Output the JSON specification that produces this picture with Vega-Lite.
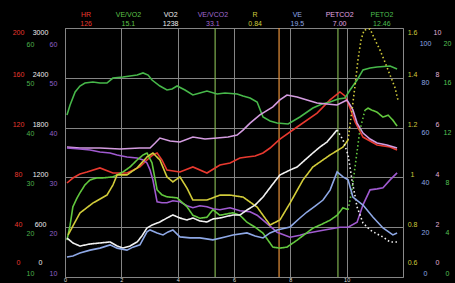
{
"$schema":"https://vega.github.io/schema/vega-lite/v6.json",
"width":338,"height":249,
"autosize":{"type":"none"},
"padding":{"left":65,"top":28,"right":52,"bottom":6},
"background":"#000000",
"config":{"view":{"stroke":"#8a8a8a","strokeWidth":1},"axis":{"domain":false,"ticks":false,"grid":false,"labelFont":"Liberation Sans","labelFontSize":7,"labelFlush":false,"labelOverlap":false,"labelBound":false,"gridColor":"#858585","gridWidth":1,"labelColor":"#dddddd"}},
"datasets":{
"ev":[{"t":5.33,"k":"a"},{"t":7.6,"k":"c"},{"t":9.69,"k":"a"}],
"hdr":[{"n":"HR","val":"126"},{"n":"VE/VO2","val":"15.1"},{"n":"VO2","val":"1238"},{"n":"VE/VCO2","val":"33.1"},{"n":"R","val":"0.84"},{"n":"VE","val":"19.5"},{"n":"PETCO2","val":"7.00"},{"n":"PETO2","val":"12.46"}]
},
"data":{"values":[
{"s":"HR","t":0.07,"v":75.5},{"s":"HR","t":0.28,"v":79.5},{"s":"HR","t":0.53,"v":82.7},{"s":"HR","t":0.78,"v":84.3},{"s":"HR","t":1.24,"v":87.6},{"s":"HR","t":1.7,"v":83.5},{"s":"HR","t":2.2,"v":83.5},{"s":"HR","t":2.66,"v":88.4},{"s":"HR","t":2.91,"v":94.0},{"s":"HR","t":3.12,"v":98.0},{"s":"HR","t":3.27,"v":99.6},{"s":"HR","t":3.44,"v":94.0},{"s":"HR","t":3.62,"v":85.9},{"s":"HR","t":4.08,"v":84.3},{"s":"HR","t":4.54,"v":88.4},{"s":"HR","t":5.04,"v":83.5},{"s":"HR","t":5.5,"v":90.0},{"s":"HR","t":5.86,"v":91.6},{"s":"HR","t":6.21,"v":95.6},{"s":"HR","t":6.46,"v":96.4},{"s":"HR","t":6.75,"v":97.2},{"s":"HR","t":7.03,"v":99.6},{"s":"HR","t":7.28,"v":103.6},{"s":"HR","t":7.63,"v":110.8},{"s":"HR","t":8.24,"v":120.5},{"s":"HR","t":8.95,"v":131.7},{"s":"HR","t":9.41,"v":142.2},{"s":"HR","t":9.76,"v":148.6},{"s":"HR","t":9.94,"v":145.4},{"s":"HR","t":10.12,"v":135.7},{"s":"HR","t":10.3,"v":124.5},{"s":"HR","t":10.58,"v":112.4},{"s":"HR","t":11.08,"v":106.0},{"s":"HR","t":11.54,"v":104.4},{"s":"HR","t":11.79,"v":102.0},
{"s":"VO2","p":"e","t":0.07,"v":470},{"s":"VO2","p":"e","t":0.28,"v":410},{"s":"VO2","p":"e","t":0.53,"v":373},{"s":"VO2","p":"e","t":0.89,"v":398},{"s":"VO2","p":"e","t":1.24,"v":410},{"s":"VO2","p":"e","t":1.6,"v":422},{"s":"VO2","p":"e","t":1.85,"v":373},{"s":"VO2","p":"e","t":2.06,"v":349},{"s":"VO2","p":"e","t":2.31,"v":373},{"s":"VO2","p":"e","t":2.56,"v":422},{"s":"VO2","p":"e","t":2.73,"v":494},{"s":"VO2","p":"e","t":2.91,"v":590},{"s":"VO2","p":"e","t":3.09,"v":626},{"s":"VO2","p":"e","t":3.37,"v":663},{"s":"VO2","p":"e","t":3.62,"v":711},{"s":"VO2","p":"e","t":3.83,"v":747},{"s":"VO2","p":"e","t":4.08,"v":711},{"s":"VO2","p":"e","t":4.33,"v":687},{"s":"VO2","p":"e","t":4.54,"v":711},{"s":"VO2","p":"e","t":4.79,"v":675},{"s":"VO2","p":"e","t":5.04,"v":663},{"s":"VO2","p":"e","t":5.25,"v":699},{"s":"VO2","p":"e","t":5.5,"v":711},{"s":"VO2","p":"e","t":5.96,"v":747},{"s":"VO2","p":"e","t":6.21,"v":747},{"s":"VO2","p":"e","t":6.46,"v":807},{"s":"VO2","p":"e","t":6.75,"v":867},{"s":"VO2","p":"e","t":7.03,"v":964},{"s":"VO2","p":"e","t":7.35,"v":1108},{"s":"VO2","p":"e","t":7.63,"v":1229},{"s":"VO2","p":"e","t":7.99,"v":1289},{"s":"VO2","p":"e","t":8.24,"v":1325},{"s":"VO2","p":"e","t":8.52,"v":1410},{"s":"VO2","p":"e","t":8.8,"v":1494},{"s":"VO2","p":"e","t":9.05,"v":1566},{"s":"VO2","p":"e","t":9.3,"v":1626},{"s":"VO2","p":"e","t":9.51,"v":1711},{"s":"VO2","p":"e","t":9.66,"v":1771},
{"s":"VO2","p":"r","t":9.66,"v":1771},{"s":"VO2","p":"r","t":9.87,"v":1651},{"s":"VO2","p":"r","t":10.05,"v":1470},{"s":"VO2","p":"r","t":10.19,"v":1169},{"s":"VO2","p":"r","t":10.37,"v":843},{"s":"VO2","p":"r","t":10.58,"v":651},{"s":"VO2","p":"r","t":10.83,"v":566},{"s":"VO2","p":"r","t":11.08,"v":518},{"s":"VO2","p":"r","t":11.29,"v":482},{"s":"VO2","p":"r","t":11.54,"v":422},{"s":"VO2","p":"r","t":11.79,"v":422},
{"s":"VE","t":0.07,"v":8.0},{"s":"VE","t":0.28,"v":8.4},{"s":"VE","t":0.53,"v":9.6},{"s":"VE","t":0.89,"v":10.8},{"s":"VE","t":1.24,"v":11.6},{"s":"VE","t":1.6,"v":12.9},{"s":"VE","t":1.85,"v":11.6},{"s":"VE","t":2.2,"v":10.8},{"s":"VE","t":2.41,"v":12.0},{"s":"VE","t":2.66,"v":12.9},{"s":"VE","t":2.91,"v":18.1},{"s":"VE","t":3.02,"v":18.9},{"s":"VE","t":3.27,"v":17.7},{"s":"VE","t":3.48,"v":16.9},{"s":"VE","t":3.66,"v":18.1},{"s":"VE","t":3.83,"v":18.9},{"s":"VE","t":4.08,"v":16.1},{"s":"VE","t":4.44,"v":15.7},{"s":"VE","t":4.79,"v":15.7},{"s":"VE","t":5.25,"v":14.9},{"s":"VE","t":5.68,"v":16.1},{"s":"VE","t":5.96,"v":16.9},{"s":"VE","t":6.46,"v":17.7},{"s":"VE","t":6.75,"v":16.5},{"s":"VE","t":7.03,"v":15.7},{"s":"VE","t":7.28,"v":17.7},{"s":"VE","t":7.53,"v":18.9},{"s":"VE","t":7.99,"v":20.1},{"s":"VE","t":8.34,"v":23.7},{"s":"VE","t":8.59,"v":26.1},{"s":"VE","t":8.88,"v":28.5},{"s":"VE","t":9.16,"v":30.9},{"s":"VE","t":9.41,"v":34.9},{"s":"VE","t":9.66,"v":42.2},{"s":"VE","t":9.87,"v":40.2},{"s":"VE","t":10.05,"v":39.0},{"s":"VE","t":10.22,"v":32.1},{"s":"VE","t":10.58,"v":28.9},{"s":"VE","t":10.93,"v":24.1},{"s":"VE","t":11.29,"v":19.7},{"s":"VE","t":11.64,"v":16.9},{"s":"VE","t":11.79,"v":17.7},
{"s":"R","p":"e","t":0.11,"v":0.769},{"s":"R","p":"e","t":0.53,"v":0.857},{"s":"R","p":"e","t":0.99,"v":0.897},{"s":"R","p":"e","t":1.49,"v":0.929},{"s":"R","p":"e","t":1.7,"v":0.969},{"s":"R","p":"e","t":1.85,"v":1.01},{"s":"R","p":"e","t":2.2,"v":1.01},{"s":"R","p":"e","t":2.56,"v":1.038},{"s":"R","p":"e","t":2.91,"v":1.082},{"s":"R","p":"e","t":3.12,"v":1.098},{"s":"R","p":"e","t":3.37,"v":1.07},{"s":"R","p":"e","t":3.62,"v":1.002},{"s":"R","p":"e","t":3.83,"v":0.982},{"s":"R","p":"e","t":4.08,"v":1.002},{"s":"R","p":"e","t":4.33,"v":0.957},{"s":"R","p":"e","t":4.54,"v":0.909},{"s":"R","p":"e","t":5.04,"v":0.909},{"s":"R","p":"e","t":5.5,"v":0.929},{"s":"R","p":"e","t":5.86,"v":0.929},{"s":"R","p":"e","t":6.32,"v":0.921},{"s":"R","p":"e","t":6.82,"v":0.881},{"s":"R","p":"e","t":7.28,"v":0.809},{"s":"R","p":"e","t":7.63,"v":0.829},{"s":"R","p":"e","t":7.99,"v":0.897},{"s":"R","p":"e","t":8.45,"v":0.99},{"s":"R","p":"e","t":8.8,"v":1.042},{"s":"R","p":"e","t":9.41,"v":1.09},{"s":"R","p":"e","t":9.87,"v":1.122},{"s":"R","p":"e","t":10.05,"v":1.15},
{"s":"R","p":"r","t":10.05,"v":1.15},{"s":"R","p":"r","t":10.19,"v":1.271},{"s":"R","p":"r","t":10.3,"v":1.371},{"s":"R","p":"r","t":10.4,"v":1.471},{"s":"R","p":"r","t":10.51,"v":1.552},{"s":"R","p":"r","t":10.62,"v":1.592},{"s":"R","p":"r","t":10.83,"v":1.596},{"s":"R","p":"r","t":11.01,"v":1.552},{"s":"R","p":"r","t":11.18,"v":1.512},{"s":"R","p":"r","t":11.36,"v":1.463},{"s":"R","p":"r","t":11.54,"v":1.411},{"s":"R","p":"r","t":11.72,"v":1.359},{"s":"R","p":"r","t":11.82,"v":1.311},
{"s":"VEVO2","p":"e","t":0.07,"v":17.4},{"s":"VEVO2","p":"e","t":0.18,"v":20.4},{"s":"VEVO2","p":"e","t":0.28,"v":24.1},{"s":"VEVO2","p":"e","t":0.43,"v":25.9},{"s":"VEVO2","p":"e","t":0.53,"v":26.9},{"s":"VEVO2","p":"e","t":0.71,"v":28.5},{"s":"VEVO2","p":"e","t":0.89,"v":29.5},{"s":"VEVO2","p":"e","t":1.14,"v":29.9},{"s":"VEVO2","p":"e","t":1.35,"v":29.9},{"s":"VEVO2","p":"e","t":1.7,"v":30.1},{"s":"VEVO2","p":"e","t":2.06,"v":31.1},{"s":"VEVO2","p":"e","t":2.31,"v":32.1},{"s":"VEVO2","p":"e","t":2.56,"v":33.5},{"s":"VEVO2","p":"e","t":2.77,"v":34.5},{"s":"VEVO2","p":"e","t":2.91,"v":34.9},{"s":"VEVO2","p":"e","t":3.09,"v":32.9},{"s":"VEVO2","p":"e","t":3.27,"v":27.5},{"s":"VEVO2","p":"e","t":3.44,"v":26.5},{"s":"VEVO2","p":"e","t":3.62,"v":26.1},{"s":"VEVO2","p":"e","t":3.98,"v":25.9},{"s":"VEVO2","p":"e","t":4.33,"v":24.1},{"s":"VEVO2","p":"e","t":4.54,"v":22.4},{"s":"VEVO2","p":"e","t":4.79,"v":21.8},{"s":"VEVO2","p":"e","t":5.04,"v":22.0},{"s":"VEVO2","p":"e","t":5.25,"v":23.5},{"s":"VEVO2","p":"e","t":5.5,"v":22.4},{"s":"VEVO2","p":"e","t":5.96,"v":22.9},{"s":"VEVO2","p":"e","t":6.21,"v":22.4},{"s":"VEVO2","p":"e","t":6.46,"v":21.0},{"s":"VEVO2","p":"e","t":6.75,"v":20.0},{"s":"VEVO2","p":"e","t":7.03,"v":18.8},{"s":"VEVO2","p":"e","t":7.38,"v":16.0},{"s":"VEVO2","p":"e","t":7.63,"v":15.8},{"s":"VEVO2","p":"e","t":7.88,"v":16.0},{"s":"VEVO2","p":"e","t":8.24,"v":17.4},{"s":"VEVO2","p":"e","t":8.52,"v":18.6},{"s":"VEVO2","p":"e","t":8.8,"v":19.8},{"s":"VEVO2","p":"e","t":9.12,"v":20.6},{"s":"VEVO2","p":"e","t":9.41,"v":21.4},{"s":"VEVO2","p":"e","t":9.66,"v":22.4},{"s":"VEVO2","p":"e","t":9.87,"v":23.9},{"s":"VEVO2","p":"e","t":10.05,"v":23.5},
{"s":"VEVO2","p":"r","t":10.05,"v":23.5},{"s":"VEVO2","p":"r","t":10.19,"v":27.5},{"s":"VEVO2","p":"r","t":10.33,"v":33.5},{"s":"VEVO2","p":"r","t":10.47,"v":39.5},{"s":"VEVO2","p":"r","t":10.65,"v":43.5},
{"s":"VEVO2","p":"f","t":10.65,"v":43.5},{"s":"VEVO2","p":"f","t":10.76,"v":43.9},{"s":"VEVO2","p":"f","t":10.9,"v":43.5},{"s":"VEVO2","p":"f","t":11.08,"v":43.1},{"s":"VEVO2","p":"f","t":11.29,"v":42.1},{"s":"VEVO2","p":"f","t":11.47,"v":42.5},{"s":"VEVO2","p":"f","t":11.64,"v":41.5},{"s":"VEVO2","p":"f","t":11.79,"v":40.3},
{"s":"VEVCO2","t":0.07,"v":35.9},{"s":"VEVCO2","t":0.53,"v":35.7},{"s":"VEVCO2","t":0.89,"v":35.5},{"s":"VEVCO2","t":1.24,"v":35.1},{"s":"VEVCO2","t":1.6,"v":34.9},{"s":"VEVCO2","t":1.85,"v":34.5},{"s":"VEVCO2","t":2.2,"v":34.1},{"s":"VEVCO2","t":2.56,"v":33.9},{"s":"VEVCO2","t":2.77,"v":33.5},{"s":"VEVCO2","t":2.91,"v":32.9},{"s":"VEVCO2","t":3.02,"v":31.5},{"s":"VEVCO2","t":3.12,"v":29.5},{"s":"VEVCO2","t":3.27,"v":25.1},{"s":"VEVCO2","t":3.44,"v":24.9},{"s":"VEVCO2","t":3.62,"v":24.9},{"s":"VEVCO2","t":3.83,"v":25.3},{"s":"VEVCO2","t":4.08,"v":25.1},{"s":"VEVCO2","t":4.33,"v":24.3},{"s":"VEVCO2","t":4.54,"v":23.9},{"s":"VEVCO2","t":4.79,"v":24.3},{"s":"VEVCO2","t":5.04,"v":24.1},{"s":"VEVCO2","t":5.25,"v":23.7},{"s":"VEVCO2","t":5.5,"v":23.5},{"s":"VEVCO2","t":5.86,"v":23.9},{"s":"VEVCO2","t":6.21,"v":23.3},{"s":"VEVCO2","t":6.57,"v":23.1},{"s":"VEVCO2","t":6.82,"v":22.4},{"s":"VEVCO2","t":7.03,"v":21.4},{"s":"VEVCO2","t":7.28,"v":20.2},{"s":"VEVCO2","t":7.53,"v":19.0},{"s":"VEVCO2","t":7.99,"v":18.0},{"s":"VEVCO2","t":8.34,"v":18.4},{"s":"VEVCO2","t":8.59,"v":18.8},{"s":"VEVCO2","t":9.16,"v":19.4},{"s":"VEVCO2","t":9.76,"v":20.0},{"s":"VEVCO2","t":10.05,"v":20.0},{"s":"VEVCO2","t":10.37,"v":21.0},{"s":"VEVCO2","t":10.58,"v":24.5},{"s":"VEVCO2","t":10.83,"v":27.5},{"s":"VEVCO2","t":11.08,"v":27.7},{"s":"VEVCO2","t":11.29,"v":27.9},{"s":"VEVCO2","t":11.54,"v":29.5},{"s":"VEVCO2","t":11.79,"v":30.9},
{"s":"PCO2","t":0.07,"v":5.22},{"s":"PCO2","t":0.53,"v":5.18},{"s":"PCO2","t":1.24,"v":5.18},{"s":"PCO2","t":1.95,"v":5.14},{"s":"PCO2","t":2.66,"v":5.18},{"s":"PCO2","t":3.02,"v":5.18},{"s":"PCO2","t":3.2,"v":5.38},{"s":"PCO2","t":3.37,"v":5.58},{"s":"PCO2","t":3.73,"v":5.46},{"s":"PCO2","t":4.08,"v":5.42},{"s":"PCO2","t":4.54,"v":5.62},{"s":"PCO2","t":4.97,"v":5.54},{"s":"PCO2","t":5.4,"v":5.58},{"s":"PCO2","t":5.79,"v":5.62},{"s":"PCO2","t":6.11,"v":5.7},{"s":"PCO2","t":6.32,"v":5.9},{"s":"PCO2","t":6.57,"v":6.18},{"s":"PCO2","t":6.92,"v":6.51},{"s":"PCO2","t":7.38,"v":6.83},{"s":"PCO2","t":7.63,"v":7.11},{"s":"PCO2","t":7.88,"v":7.31},{"s":"PCO2","t":8.24,"v":7.23},{"s":"PCO2","t":8.59,"v":7.11},{"s":"PCO2","t":8.95,"v":6.99},{"s":"PCO2","t":9.3,"v":6.95},{"s":"PCO2","t":9.66,"v":6.91},{"s":"PCO2","t":9.87,"v":7.03},{"s":"PCO2","t":10.01,"v":7.11},{"s":"PCO2","t":10.12,"v":6.91},{"s":"PCO2","t":10.22,"v":6.71},{"s":"PCO2","t":10.37,"v":6.18},{"s":"PCO2","t":10.58,"v":5.78},{"s":"PCO2","t":10.83,"v":5.54},{"s":"PCO2","t":11.08,"v":5.38},{"s":"PCO2","t":11.43,"v":5.3},{"s":"PCO2","t":11.79,"v":5.18},
{"s":"PO2","t":0.07,"v":13.01},{"s":"PO2","t":0.18,"v":13.82},{"s":"PO2","t":0.36,"v":14.86},{"s":"PO2","t":0.53,"v":15.34},{"s":"PO2","t":0.71,"v":15.58},{"s":"PO2","t":0.99,"v":15.66},{"s":"PO2","t":1.24,"v":15.58},{"s":"PO2","t":1.49,"v":15.58},{"s":"PO2","t":1.7,"v":15.98},{"s":"PO2","t":2.06,"v":16.06},{"s":"PO2","t":2.31,"v":16.14},{"s":"PO2","t":2.56,"v":16.22},{"s":"PO2","t":2.77,"v":16.39},{"s":"PO2","t":2.95,"v":16.22},{"s":"PO2","t":3.09,"v":15.82},{"s":"PO2","t":3.37,"v":15.34},{"s":"PO2","t":3.62,"v":15.02},{"s":"PO2","t":3.8,"v":15.1},{"s":"PO2","t":3.98,"v":15.34},{"s":"PO2","t":4.26,"v":15.02},{"s":"PO2","t":4.54,"v":14.62},{"s":"PO2","t":4.79,"v":14.78},{"s":"PO2","t":5.04,"v":14.94},{"s":"PO2","t":5.4,"v":14.7},{"s":"PO2","t":5.68,"v":14.78},{"s":"PO2","t":6.11,"v":14.7},{"s":"PO2","t":6.32,"v":14.54},{"s":"PO2","t":6.57,"v":14.38},{"s":"PO2","t":6.82,"v":14.06},{"s":"PO2","t":7.03,"v":12.85},{"s":"PO2","t":7.28,"v":12.53},{"s":"PO2","t":7.53,"v":12.37},{"s":"PO2","t":7.92,"v":12.29},{"s":"PO2","t":8.34,"v":12.85},{"s":"PO2","t":8.8,"v":13.57},{"s":"PO2","t":9.12,"v":13.9},{"s":"PO2","t":9.41,"v":14.06},{"s":"PO2","t":9.69,"v":14.3},{"s":"PO2","t":9.94,"v":14.38},{"s":"PO2","t":10.12,"v":15.02},{"s":"PO2","t":10.37,"v":15.82},{"s":"PO2","t":10.58,"v":16.63},{"s":"PO2","t":10.83,"v":16.79},{"s":"PO2","t":11.08,"v":16.87},{"s":"PO2","t":11.54,"v":16.95},{"s":"PO2","t":11.79,"v":16.71}
]},
"layer":[
{"data":{"name":"ev"},"mark":{"type":"rule","strokeWidth":1.2},
 "encoding":{"x":{"field":"t","type":"quantitative","scale":{"domain":[0,12]},"axis":null},
  "color":{"field":"k","type":"nominal","scale":{"domain":["a","c"],"range":["#7fb04f","#e8923a"]},"legend":null}}},
{"transform":[{"filter":"datum.s==='HR'"}],"mark":{"type":"line","color":"#e8392f","strokeWidth":1.6,"clip":true},
 "encoding":{"x":{"field":"t","type":"quantitative","scale":{"domain":[0,12]},"axis":{"orient":"bottom","title":null,"values":[0,2,4,6,8,10],"grid":true,"labelColor":"#dddddd","labelFontSize":5.5,"labelPadding":0,"labelBaseline":"top","labelAlign":"center"}},
  "y":{"field":"v","type":"quantitative","scale":{"domain":[0,200]},"axis":{"orient":"left","title":null,"values":[0,40,80,120,160,200],"grid":true,"labelColor":"#e8392f","labelAlign":"center","labelBaseline":"middle","labelPadding":47,"labelOffset":{"expr":"datum.value===200?4:(datum.value===0?-15:-3)"}}}}},
{"transform":[{"filter":"datum.s==='PO2'"}],"mark":{"type":"line","color":"#47b84a","strokeWidth":1.6,"clip":true},
 "encoding":{"x":{"field":"t","type":"quantitative","scale":{"domain":[0,12]},"axis":null},
  "y":{"field":"v","type":"quantitative","scale":{"domain":[0,20]},"axis":{"orient":"right","title":null,"values":[0,4,8,12,16,20],"labelColor":"#55c055","labelAlign":"center","labelBaseline":"middle","labelPadding":44,"labelOffset":{"expr":"datum.value===20?15:(datum.value===0?-4:5)"}}}}},
{"transform":[{"filter":"datum.s==='PCO2'"}],"mark":{"type":"line","color":"#d49ce0","strokeWidth":1.6,"clip":true},
 "encoding":{"x":{"field":"t","type":"quantitative","scale":{"domain":[0,12]},"axis":null},
  "y":{"field":"v","type":"quantitative","scale":{"domain":[0,10]},"axis":{"orient":"right","title":null,"values":[0,2,4,6,8,10],"labelColor":"#e0b0d8","labelAlign":"center","labelBaseline":"middle","labelPadding":34,"labelOffset":{"expr":"datum.value===10?4:(datum.value===0?-15:-3)"}}}}},
{"transform":[{"filter":"datum.s==='VEVCO2'"}],"mark":{"type":"line","color":"#a05ad0","strokeWidth":1.6,"clip":true},
 "encoding":{"x":{"field":"t","type":"quantitative","scale":{"domain":[0,12]},"axis":null},
  "y":{"field":"v","type":"quantitative","scale":{"domain":[10,60]},"axis":{"orient":"left","title":null,"values":[10,20,30,40,50,60],"labelColor":"#9060c8","labelAlign":"center","labelBaseline":"middle","labelPadding":12,"labelOffset":{"expr":"datum.value===60?16:(datum.value===10?-4:6)"}}}}},
{"transform":[{"filter":"datum.s==='VEVO2'"}],"mark":{"type":"line","color":"#62c83e","strokeWidth":1.6,"clip":true},
 "encoding":{"x":{"field":"t","type":"quantitative","scale":{"domain":[0,12]},"axis":null},
  "y":{"field":"v","type":"quantitative","scale":{"domain":[10,60]},"axis":{"orient":"left","title":null,"values":[10,20,30,40,50,60],"labelColor":"#4cb04c","labelAlign":"center","labelBaseline":"middle","labelPadding":35,"labelOffset":{"expr":"datum.value===60?16:(datum.value===10?-4:6)"}}},
  "strokeDash":{"field":"p","type":"nominal","scale":{"domain":["e","r","f"],"range":[[1,0],[1.5,2.5],[1,0]]},"legend":null}}},
{"transform":[{"filter":"datum.s==='R'"}],"mark":{"type":"line","color":"#d2cc3a","strokeWidth":1.6,"clip":true},
 "encoding":{"x":{"field":"t","type":"quantitative","scale":{"domain":[0,12]},"axis":null},
  "y":{"field":"v","type":"quantitative","scale":{"domain":[0.6,1.6]},"axis":{"orient":"right","title":null,"values":[0.6,0.8,1,1.2,1.4,1.6],"format":"~g","labelColor":"#cfc83c","labelAlign":"center","labelBaseline":"middle","labelPadding":9,"labelOffset":{"expr":"datum.value>1.55?4:(datum.value<0.65?-15:-3)"}}},
  "strokeDash":{"field":"p","type":"nominal","scale":{"domain":["e","r","f"],"range":[[1,0],[1.5,2.5],[1,0]]},"legend":null}}},
{"transform":[{"filter":"datum.s==='VO2'"}],"mark":{"type":"line","color":"#f2f2f2","strokeWidth":1.6,"clip":true},
 "encoding":{"x":{"field":"t","type":"quantitative","scale":{"domain":[0,12]},"axis":null},
  "y":{"field":"v","type":"quantitative","scale":{"domain":[0,3000]},"axis":{"orient":"left","title":null,"values":[0,600,1200,1800,2400,3000],"format":"d","labelColor":"#eeeeee","labelAlign":"center","labelBaseline":"middle","labelPadding":25,"labelOffset":{"expr":"datum.value===3000?4:(datum.value===0?-15:-3)"}}},
  "strokeDash":{"field":"p","type":"nominal","scale":{"domain":["e","r","f"],"range":[[1,0],[1.5,2.5],[1,0]]},"legend":null}}},
{"transform":[{"filter":"datum.s==='VE'"}],"mark":{"type":"line","color":"#8ea8e6","strokeWidth":1.6,"clip":true},
 "encoding":{"x":{"field":"t","type":"quantitative","scale":{"domain":[0,12]},"axis":null},
  "y":{"field":"v","type":"quantitative","scale":{"domain":[0,100]},"axis":{"orient":"right","title":null,"values":[0,20,40,60,80,100],"labelColor":"#8ea8e6","labelAlign":"center","labelBaseline":"middle","labelPadding":22,"labelOffset":{"expr":"datum.value===100?15:(datum.value===0?-4:5)"}}}}},
{"data":{"name":"hdr"},"mark":{"type":"point","opacity":0},
 "encoding":{"x":{"field":"n","type":"nominal","scale":{"type":"band","domain":["HR","VE/VO2","VO2","VE/VCO2","R","VE","PETCO2","PETO2"],"paddingInner":0,"paddingOuter":0},
  "axis":{"orient":"top","title":null,"labelAngle":0,"labelAlign":"center","labelBaseline":"middle","labelPadding":14,"labelColor":{"condition":[{"test":"datum.value==='HR'","value":"#e8392f"},{"test":"datum.value==='VE/VO2'","value":"#5fc24a"},{"test":"datum.value==='VE/VCO2'","value":"#a06ad0"},{"test":"datum.value==='R'","value":"#d0cc3c"},{"test":"datum.value==='VE'","value":"#8fa8e8"},{"test":"datum.value==='PETCO2'","value":"#e0a8e0"},{"test":"datum.value==='PETO2'","value":"#4cbf50"}],"value":"#f0f0f0"}}}}},
{"data":{"name":"hdr"},"mark":{"type":"point","opacity":0},
 "encoding":{"x":{"field":"val","type":"nominal","scale":{"type":"band","domain":["126","15.1","1238","33.1","0.84","19.5","7.00","12.46"],"paddingInner":0,"paddingOuter":0},
  "axis":{"orient":"top","title":null,"labelAngle":0,"labelAlign":"center","labelBaseline":"middle","labelPadding":5,"labelColor":{"condition":[{"test":"datum.value==='126'","value":"#e8392f"},{"test":"datum.value==='15.1'","value":"#5fc24a"},{"test":"datum.value==='33.1'","value":"#a06ad0"},{"test":"datum.value==='0.84'","value":"#d0cc3c"},{"test":"datum.value==='19.5'","value":"#8fa8e8"},{"test":"datum.value==='7.00'","value":"#e0a8e0"},{"test":"datum.value==='12.46'","value":"#4cbf50"}],"value":"#f0f0f0"}}}}}
],
"resolve":{"scale":{"x":"independent","y":"independent","color":"independent"}}
}
